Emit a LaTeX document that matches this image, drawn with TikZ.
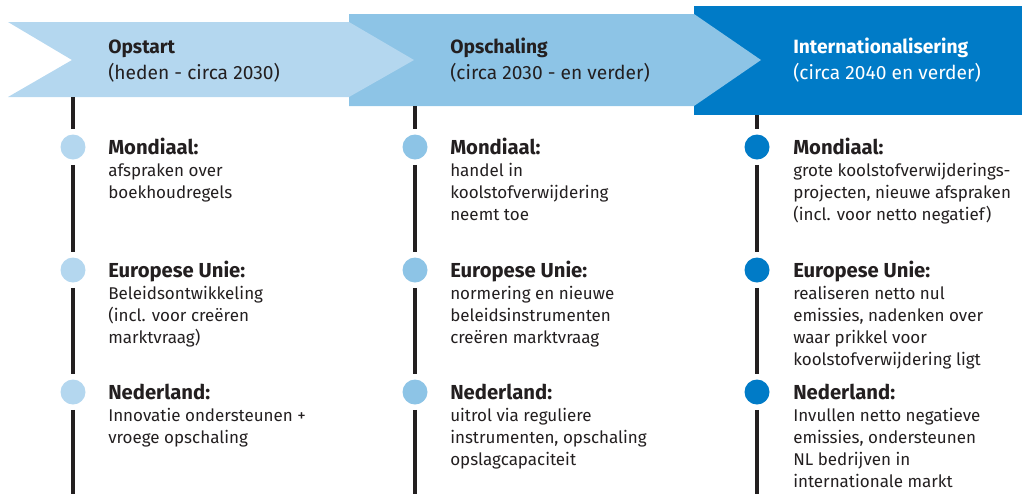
\documentclass[tikz,border=0pt]{standalone}
\usepackage{fontspec}
\setmainfont{Fira Sans}
\definecolor{faseA}{RGB}{180,215,239}
\definecolor{faseB}{RGB}{141,196,230}
\definecolor{faseC}{RGB}{0,123,199}
\definecolor{donker}{RGB}{35,31,32}
\newcommand{\kopfont}{\fontsize{15.2}{16.5}\selectfont\bfseries}
\newcommand{\regels}[1]{\begin{tabular}[t]{@{}l@{}}#1\end{tabular}}
\tikzset{
  fase/.style={anchor=base west, inner sep=0pt, text=donker,
    font=\fontsize{14.4}{19.5}\selectfont},
  blok/.style={anchor=base west, inner sep=0pt, text=donker,
    font=\fontsize{12.75}{16.5}\selectfont},
  bol/.style={circle, minimum size=18.75pt, inner sep=0pt, outer sep=4pt},
  lijn/.style={draw=donker, line width=3.4pt}
}
\begin{document}
\begin{tikzpicture}[x=0.75pt, y=-0.75pt]
     \useasboundingbox (0,0) rectangle (1022,494);
     % banners, van achter naar voor
     \fill[faseC] (694,6) rectangle (1022,115);
     \fill[faseB] (349,14) -- (694,14) -- (761,60) -- (694,106) -- (349,106) -- cycle;
     \fill[faseA] (8,22) -- (349,22) -- (414,60) -- (349,97) -- (8,97) -- (72,60) -- cycle;
     \node[fase] (opstart) at (108,53) {\regels{\textbf{Opstart}\\(heden - circa 2030)}};
     \node[fase] (opschaling) at (450,53) {\regels{\textbf{Opschaling}\\(circa 2030 - en verder)}};
     \node[fase, text=white] (internat) at (793,53) {\regels{\textbf{Internationalisering}\\(circa 2040 en verder)}};
     % tijdlijnen
     \coordinate (topA) at (73,97);
     \coordinate (topB) at (415,106);
     \coordinate (topC) at (757,115);
     \coordinate (botA) at (73,494);
     \coordinate (botB) at (415,494);
     \coordinate (botC) at (757,494);
     \node[bol, fill=faseA] (mA) at (73,147) {};
     \node[bol, fill=faseA] (eA) at (73,270) {};
     \node[bol, fill=faseA] (nA) at (73,392) {};
     \node[bol, fill=faseB] (mB) at (415,147) {};
     \node[bol, fill=faseB] (eB) at (415,270) {};
     \node[bol, fill=faseB] (nB) at (415,392) {};
     \node[bol, fill=faseC] (mC) at (757,147) {};
     \node[bol, fill=faseC] (eC) at (757,270) {};
     \node[bol, fill=faseC] (nC) at (757,392) {};
     \draw[lijn] (topA) -- (mA) -- (eA) -- (nA) -- (botA);
     \draw[lijn] (topB) -- (mB) -- (eB) -- (nB) -- (botB);
     \draw[lijn] (topC) -- (mC) -- (eC) -- (nC) -- (botC);
     % opstart
     \node[blok] (tmA) at (108,154) {\regels{{\kopfont Mondiaal:}\\afspraken over\\boekhoudregels}};
     \node[blok] (teA) at (108,277) {\regels{{\kopfont Europese Unie:}\\Beleidsontwikkeling\\(incl. voor creëren\\marktvraag)}};
     \node[blok] (tnA) at (108,399) {\regels{{\kopfont Nederland:}\\Innovatie ondersteunen +\\vroege opschaling}};
     % opschaling
     \node[blok] (tmB) at (450,154) {\regels{{\kopfont Mondiaal:}\\handel in\\koolstofverwijdering\\neemt toe}};
     \node[blok] (teB) at (450,277) {\regels{{\kopfont Europese Unie:}\\normering en nieuwe\\beleidsinstrumenten\\creëren marktvraag}};
     \node[blok] (tnB) at (450,399) {\regels{{\kopfont Nederland:}\\uitrol via reguliere\\instrumenten, opschaling\\opslagcapaciteit}};
     % internationalisering
     \node[blok] (tmC) at (793,154) {\regels{{\kopfont Mondiaal:}\\grote koolstofverwijderings-\\projecten, nieuwe afspraken\\(incl. voor netto negatief)}};
     \node[blok] (teC) at (793,277) {\regels{{\kopfont Europese Unie:}\\realiseren netto nul\\emissies, nadenken over\\waar prikkel voor\\koolstofverwijdering ligt}};
     \node[blok] (tnC) at (793,399) {\regels{{\kopfont Nederland:}\\Invullen netto negatieve\\emissies, ondersteunen\\NL bedrijven in\\internationale markt}};
\end{tikzpicture}
\end{document}
